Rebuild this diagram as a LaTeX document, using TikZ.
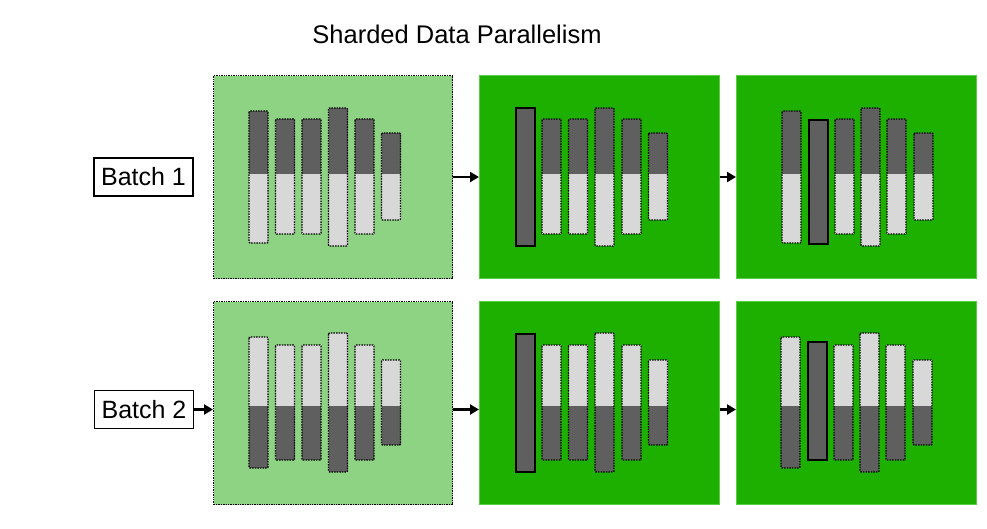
\documentclass[tikz,border=0pt]{standalone}
\usepackage{fontspec}
\setmainfont{Liberation Sans}
\usetikzlibrary{arrows.meta,calc}
\definecolor{lgreen}{RGB}{142,211,131}
\definecolor{dgreen}{RGB}{30,176,0}
\definecolor{dgreenedge}{RGB}{90,205,70}
\definecolor{dbar}{RGB}{95,95,95}
\definecolor{lbar}{RGB}{216,216,216}
\tikzset{
  lightpanel/.style={anchor=north west, inner sep=0, minimum width=239pt, minimum height=203pt,
    fill=lgreen, draw=black, line width=1.1pt, dash pattern=on 1.4pt off 1pt},
  darkpanel/.style={anchor=north west, inner sep=0, minimum width=240pt, minimum height=203pt,
    fill=dgreen, draw=dgreenedge, line width=0.6pt},
  barborder/.style={draw=black, line width=1.4pt, dash pattern=on 1.5pt off 1.1pt, rounded corners=1pt},
  solidbarstyle/.style={fill=dbar, draw=black, line width=1.6pt},
  batchbox/.style={draw=black, line width=1.2pt, inner sep=0, minimum width=99pt, minimum height=38pt,
    font=\fontsize{25}{30}\selectfont},
  flow/.style={line width=2.4pt, -{Triangle[length=9pt,width=10pt]}},
  titletext/.style={font=\fontsize{25.5}{30}\selectfont}
}
\newcommand\shardbar[6]{%
  \fill[#5] (#1,#2) rectangle (#1+19,#3);
  \fill[#6] (#1,#3) rectangle (#1+19,#4);
  \draw[barborder] (#1,#2) rectangle (#1+19,#4);}
\newcommand\fullbar[3]{\draw[solidbarstyle] (#1,#2) rectangle (#1+19,#3);}
\begin{document}
\begin{tikzpicture}[x=1pt,y=-1pt]
\useasboundingbox (0,0) rectangle (987,528);
\node[titletext] (title) at (457,34) {Sharded Data Parallelism};

% panels
\node[lightpanel] (p11) at (213,75) {};
\node[darkpanel] (p12) at (479,75) {};
\node[darkpanel] (p13) at (736,75) {};
\node[lightpanel] (p21) at (213,301) {};
\node[darkpanel] (p22) at (479,301) {};
\node[darkpanel] (p23) at (736,301) {};

% batch labels
\node[batchbox] (b1) at (143.5,177) {Batch 1};
\node[batchbox] (b2) at (144,409.5) {Batch 2};

% row 1 bars (dark top, light bottom)
\shardbar{249}{111}{174}{243}{dbar}{lbar}
\shardbar{275.5}{119}{174}{234}{dbar}{lbar}
\shardbar{302}{119}{174}{234}{dbar}{lbar}
\shardbar{328.5}{108}{174}{246}{dbar}{lbar}
\shardbar{355}{119}{174}{234}{dbar}{lbar}
\shardbar{381.5}{133}{174}{220}{dbar}{lbar}

\fullbar{516}{108}{246}
\shardbar{542}{119}{174}{234}{dbar}{lbar}
\shardbar{568.5}{119}{174}{234}{dbar}{lbar}
\shardbar{595}{108}{174}{246}{dbar}{lbar}
\shardbar{622}{119}{174}{234}{dbar}{lbar}
\shardbar{648.5}{133}{174}{220}{dbar}{lbar}

\shardbar{782}{111}{174}{243}{dbar}{lbar}
\fullbar{809}{120}{244}
\shardbar{835}{119}{174}{234}{dbar}{lbar}
\shardbar{861}{108}{174}{246}{dbar}{lbar}
\shardbar{887}{119}{174}{234}{dbar}{lbar}
\shardbar{914}{133}{174}{220}{dbar}{lbar}

% row 2 bars (light top, dark bottom)
\shardbar{249}{337}{406}{468}{lbar}{dbar}
\shardbar{275.5}{345}{406}{460}{lbar}{dbar}
\shardbar{302}{345}{406}{460}{lbar}{dbar}
\shardbar{328.5}{333}{406}{472}{lbar}{dbar}
\shardbar{355}{345}{406}{460}{lbar}{dbar}
\shardbar{381.5}{360}{406}{445}{lbar}{dbar}

\fullbar{516}{334}{472}
\shardbar{542}{345}{406}{460}{lbar}{dbar}
\shardbar{568.5}{345}{406}{460}{lbar}{dbar}
\shardbar{595}{333}{406}{472}{lbar}{dbar}
\shardbar{622}{345}{406}{460}{lbar}{dbar}
\shardbar{648.5}{360}{406}{445}{lbar}{dbar}

\shardbar{781}{337}{406}{468}{lbar}{dbar}
\fullbar{808}{342}{460}
\shardbar{834}{345}{406}{460}{lbar}{dbar}
\shardbar{860}{333}{406}{472}{lbar}{dbar}
\shardbar{886}{345}{406}{460}{lbar}{dbar}
\shardbar{913}{360}{406}{445}{lbar}{dbar}

% arrows
\draw[flow] (p11.east |- b1) -- (p12.west |- b1);
\draw[flow] (p12.east |- b1) -- (p13.west |- b1);
\draw[flow] (b2.east) -- (p21.west |- b2);
\draw[flow] (p21.east |- b2) -- (p22.west |- b2);
\draw[flow] (p22.east |- b2) -- (p23.west |- b2);
\end{tikzpicture}
\end{document}
